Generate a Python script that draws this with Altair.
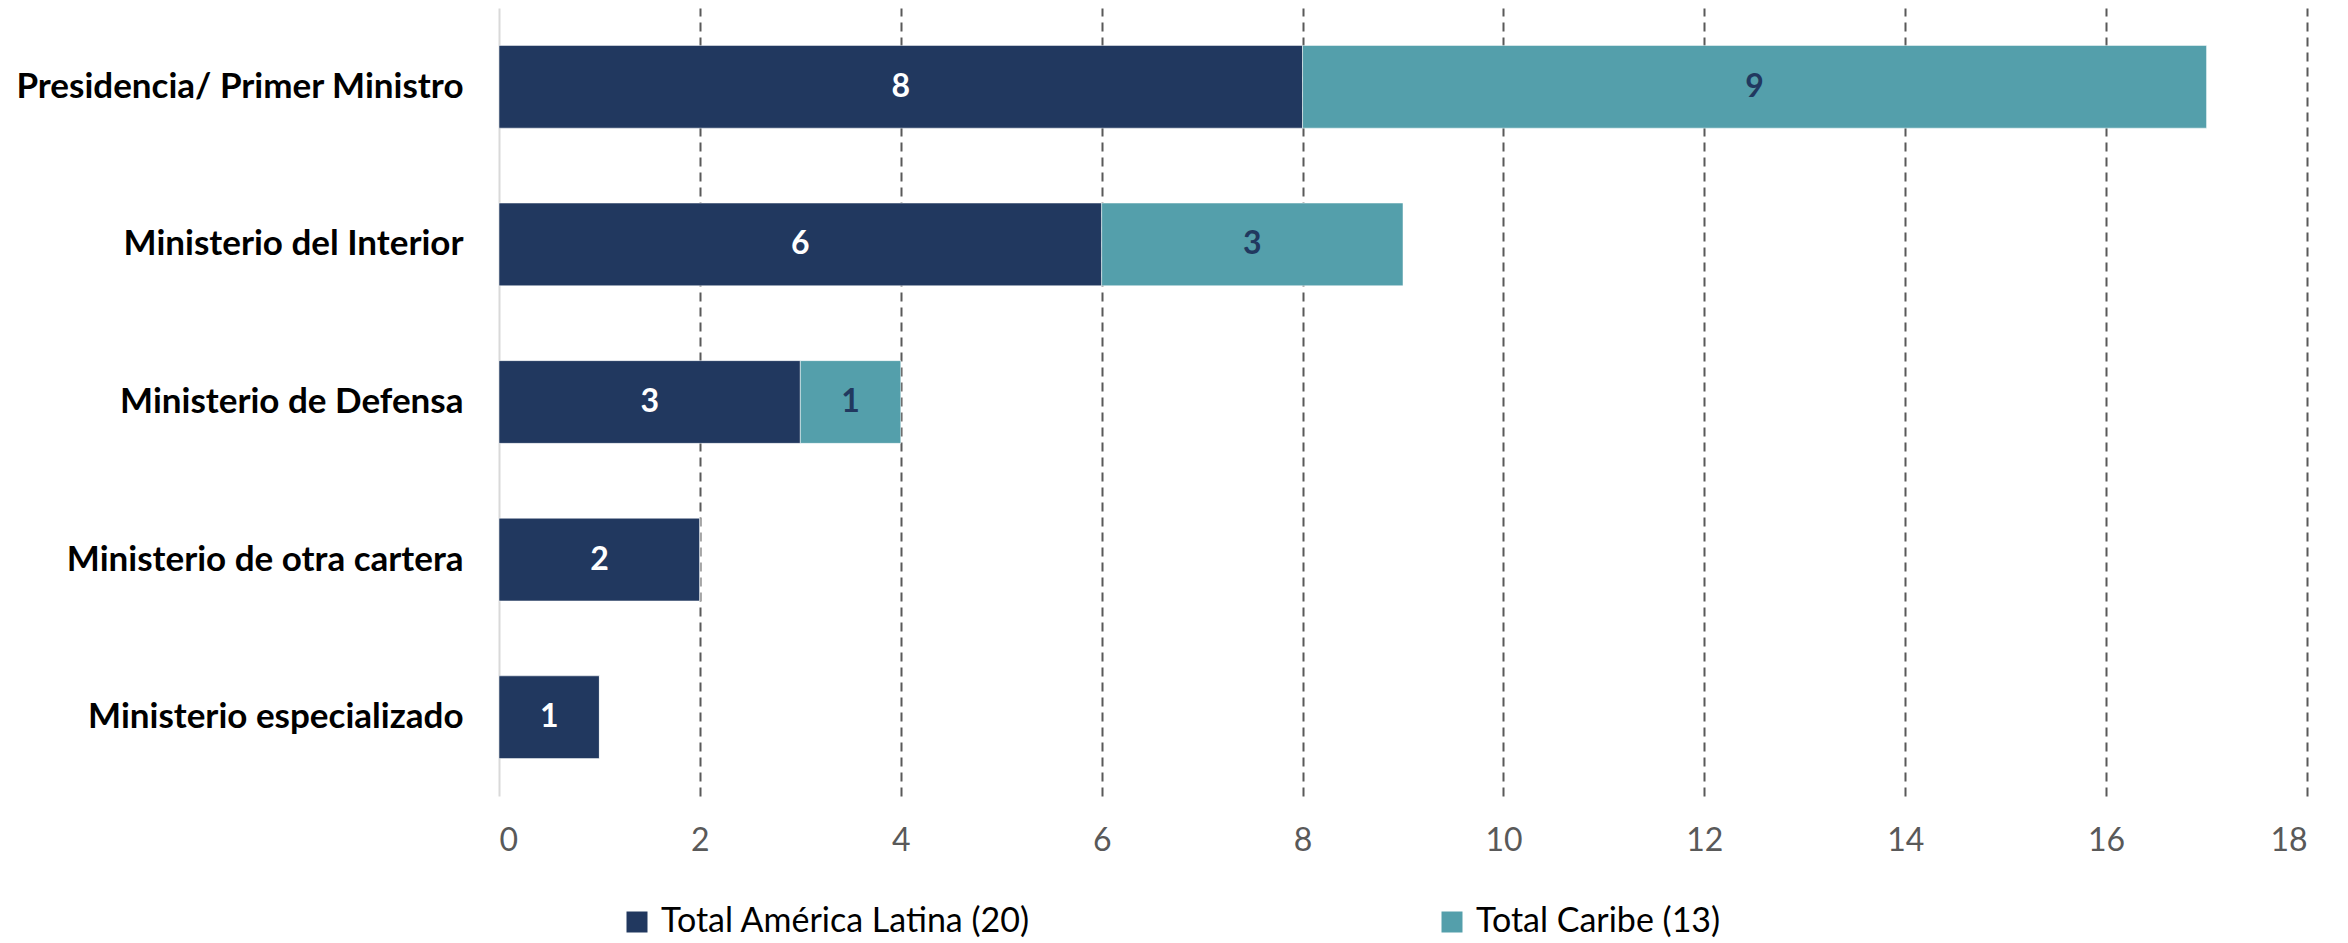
import altair as alt
import pandas as pd

categories = [
    "Presidencia/ Primer Ministro",
    "Ministerio del Interior",
    "Ministerio de Defensa",
    "Ministerio de otra cartera",
    "Ministerio especializado",
]
latina = [8, 6, 3, 2, 1]
caribe = [9, 3, 1, 0, 0]
series_names = ["Total América Latina (20)", "Total Caribe (13)"]
colors = ["#21385F", "#549FAB"]
x_ticks = [0, 2, 4, 6, 8, 10, 12, 14, 16, 18]

rows = []
for i, c in enumerate(categories):
    rows.append({"cat": c, "series": series_names[0], "order": 0, "value": latina[i]})
    rows.append({"cat": c, "series": series_names[1], "order": 1, "value": caribe[i]})
df = pd.DataFrame(rows)

FONT = "Lato"

base = alt.Chart(df).transform_stack(
    stack="value", as_=["x0", "x1"], groupby=["cat"], sort=[alt.SortField("order")]
).transform_calculate(mid="(datum.x0 + datum.x1) / 2")

yenc = alt.Y(
    "cat:N",
    sort=categories,
    title=None,
    scale=alt.Scale(paddingInner=0.475, paddingOuter=0.2375),
    axis=alt.Axis(
        domain=False, ticks=False, labelFont=FONT, labelFontSize=35,
        labelFontWeight="bold", labelColor="#000000", labelPadding=36,
        labelLimit=800,
    ),
)

bars = base.mark_bar(stroke="#FFFFFF", strokeWidth=1, strokeOpacity=0.5).encode(
    y=yenc,
    x=alt.X(
        "x0:Q",
        title=None,
        scale=alt.Scale(domain=[0, 18], nice=False, zero=True),
        axis=alt.Axis(
            values=x_ticks, format="d", domain=False, ticks=False, tickSize=0,
            labelFont=FONT, labelFontSize=32, labelColor="#595959", labelPadding=29,
            grid=True,
            gridColor={"condition": {"test": "datum.value === 0", "value": "#D9D9D9"}, "value": "#595959"},
            gridDash={"condition": {"test": "datum.value === 0", "value": []}, "value": [9, 6]},
            gridWidth=2,
        ),
    ),
    x2="x1:Q",
    color=alt.Color(
        "series:N",
        scale=alt.Scale(domain=series_names, range=colors),
        legend=alt.Legend(
            title=None, orient="none", legendX=121, legendY=897,
            direction="horizontal", symbolType="square", symbolSize=441,
            symbolStrokeWidth=0, labelFont=FONT, labelFontSize=34,
            labelColor="#000000", columnPadding=404, padding=0, labelOffset=7,
            labelLimit=1000,
        ),
    ),
)

text = base.transform_filter("datum.value > 0").mark_text(
    font=FONT, fontSize=32, fontWeight="bold"
).encode(
    y=alt.Y("cat:N", sort=categories),
    x=alt.X("mid:Q"),
    text=alt.Text("value:Q"),
    color=alt.condition("datum.order == 0", alt.value("#FFFFFF"), alt.value("#21385F")),
)

chart = alt.layer(bars, text).properties(
    width=1808,
    height=788,
    padding={"left": 491, "top": 0, "right": 20, "bottom": 147},
    autosize=alt.AutoSizeParams(type="none"),
).configure_view(stroke=None)

chart.save("out.html", embed_options={"renderer": "svg", "actions": False})
